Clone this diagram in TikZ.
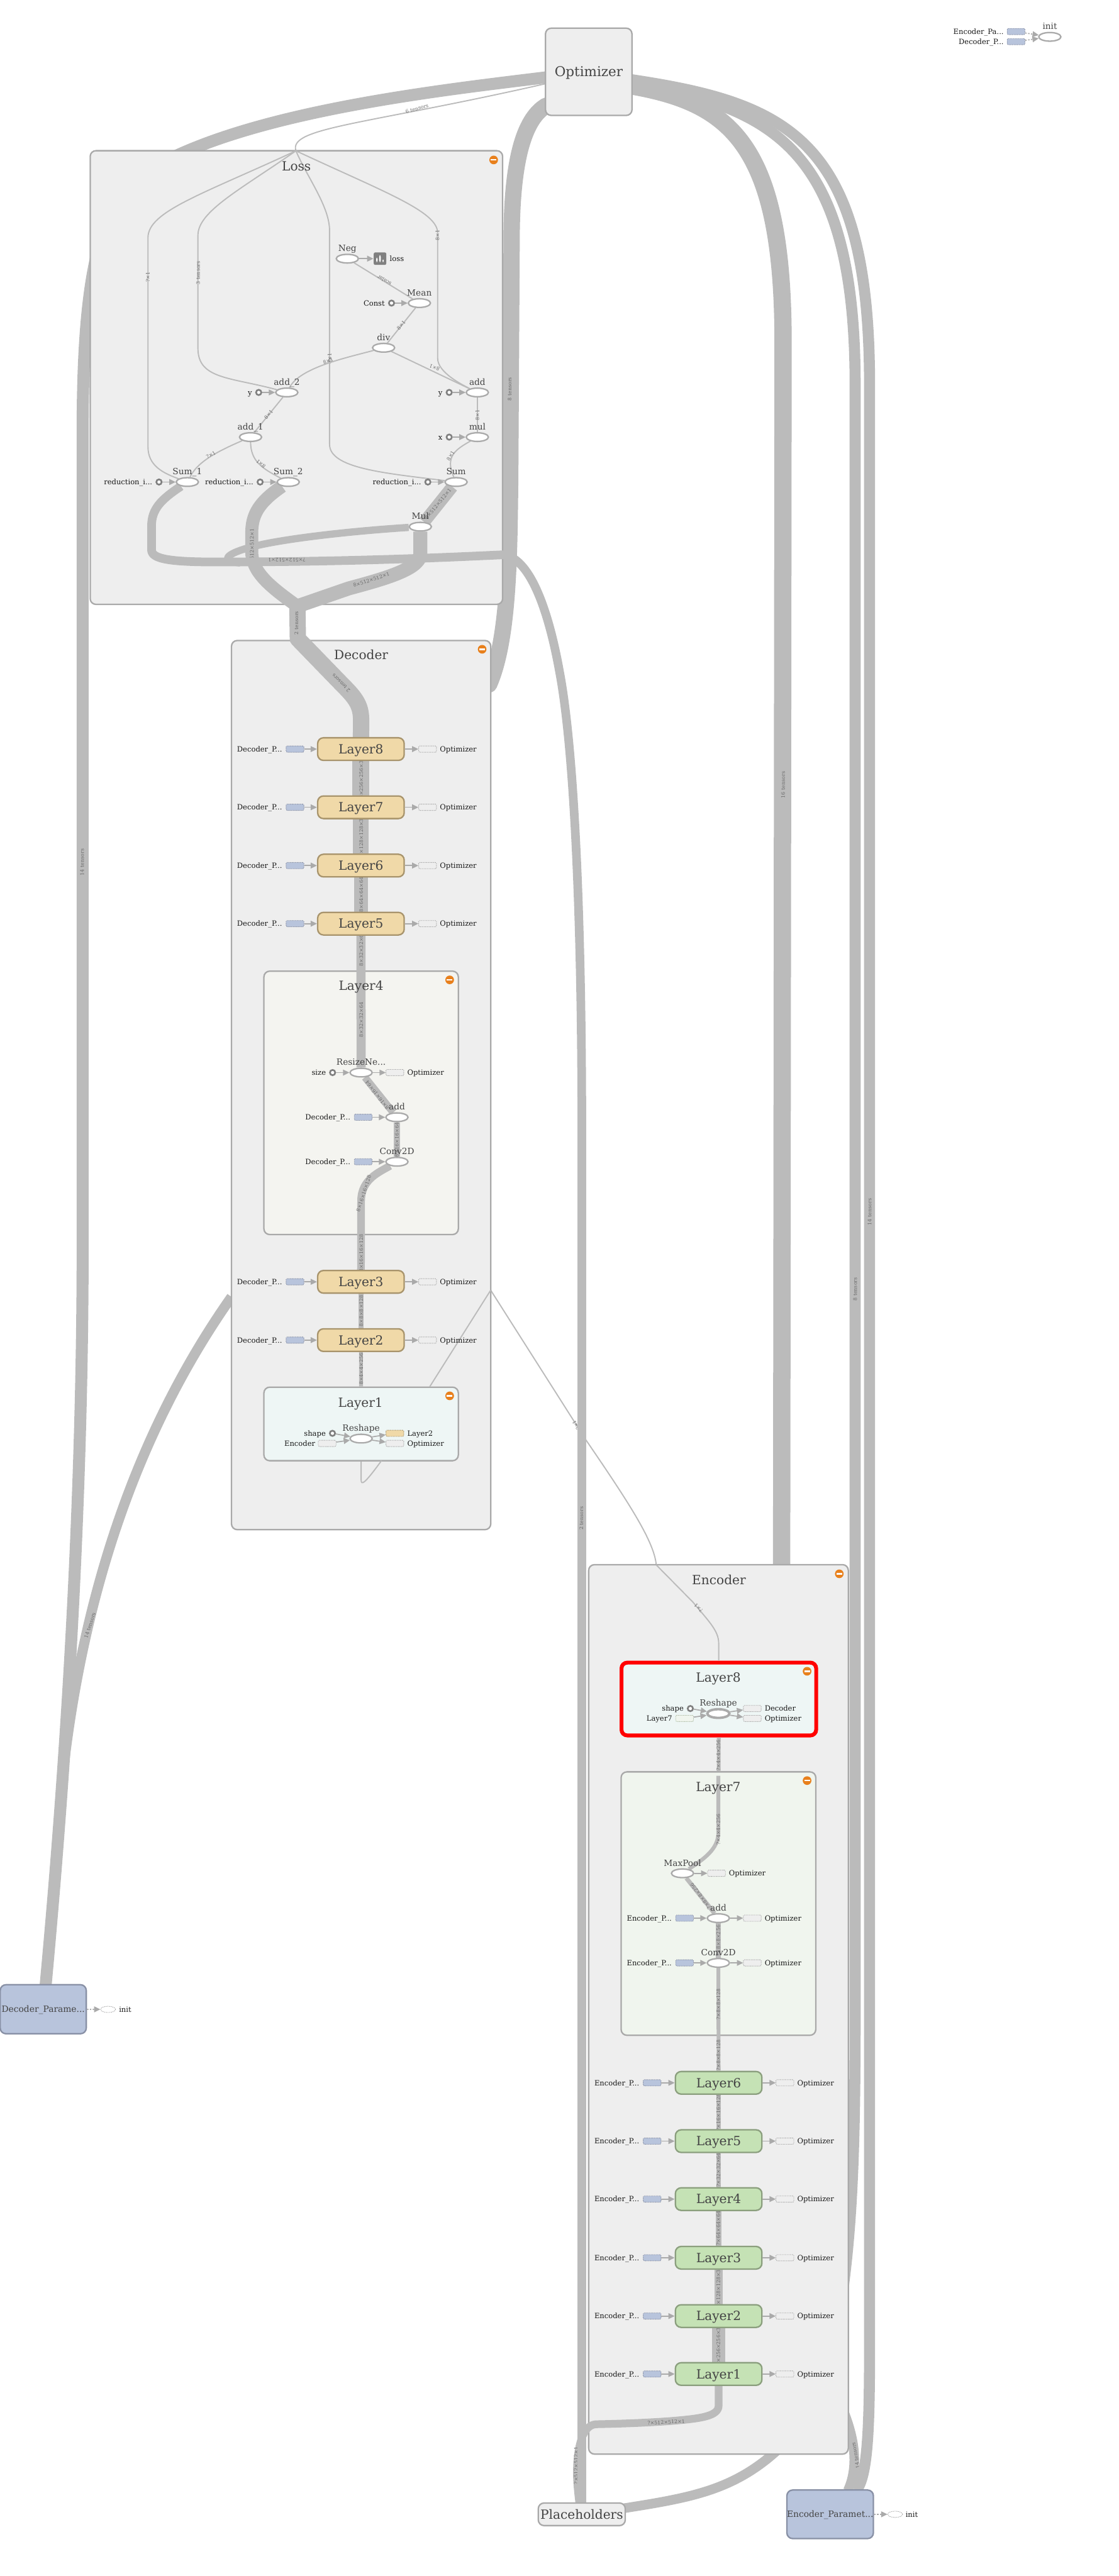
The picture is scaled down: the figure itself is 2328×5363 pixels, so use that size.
\documentclass[tikz,border=0pt]{standalone}
\usepackage{fontspec}
\setmainfont{DejaVu Serif}
\usetikzlibrary{shapes.geometric, arrows.meta, positioning, backgrounds}
\definecolor{edgegray}{HTML}{BBBBBB}
\definecolor{auxgray}{HTML}{AAAAAA}
\definecolor{clusline}{HTML}{A9A9A9}
\definecolor{clusfill}{HTML}{EEEEEE}
\definecolor{opgray}{HTML}{444444}
\definecolor{lablgray}{HTML}{6A6A6A}
\definecolor{tanfill}{HTML}{F0D9A8}
\definecolor{tanline}{HTML}{A8946C}
\definecolor{greenfill}{HTML}{C5E2B5}
\definecolor{greenline}{HTML}{8B9F7E}
\definecolor{bluefill}{HTML}{B8C4DC}
\definecolor{blueline}{HTML}{8890A5}
\definecolor{minusorange}{HTML}{E8801C}
\definecolor{sandfill}{HTML}{F4F4F0}
\definecolor{icefill}{HTML}{EEF6F5}
\definecolor{mintfill}{HTML}{F0F5EE}
\pgfdeclarelayer{toplink}
\pgfdeclarelayer{clusterbox}
\pgfdeclarelayer{inner}
\pgfsetlayers{toplink,clusterbox,inner,main}

\begin{document}
\begin{tikzpicture}[
    x=0.01cm, y=-0.01cm,
    bigfont/.style={font=\fontsize{7.5}{9}\selectfont},
    edg/.style={draw=edgegray, line width=#1, line join=round},
    thinedge/.style={edg=0.025cm},
    aux/.style={-{Triangle[length=0.13cm, width=0.12cm]}, draw=auxgray, line width=0.022cm},
    ctrl/.style={aux, dash pattern=on 0.03cm off 0.03cm},
    elab/.style={font=\fontsize{2.95}{3.5}\selectfont, text=lablgray, inner sep=0pt},
    clus/.style={rectangle, draw=clusline, fill=clusfill, line width=0.03cm, rounded corners=0.12cm, inner sep=0pt},
    clustitle/.style={bigfont, text=opgray, anchor=base, inner sep=0pt},
    minusdot/.style={circle, fill=minusorange, minimum size=0.18cm, inner sep=0pt,
        path picture={\fill[white] ([shift={(-6,-1.5)}]path picture bounding box.center)
            rectangle ([shift={(6,1.5)}]path picture bounding box.center);}},
    bigbox/.style={rectangle, bigfont, text=opgray, rounded corners=0.12cm, line width=0.03cm,
        inner sep=0pt, text height=0.19cm, text depth=0cm},
    layerd/.style={bigbox, draw=tanline, fill=tanfill, minimum width=1.8cm, minimum height=0.47cm},
    layere/.style={bigbox, draw=greenline, fill=greenfill, minimum width=1.8cm, minimum height=0.47cm},
    parambox/.style={bigbox, draw=blueline, fill=bluefill, font=\fontsize{5.15}{6}\selectfont,
        text height=0.13cm},
    opn/.style={ellipse, draw=auxgray, fill=white, line width=0.03cm, minimum width=0.46cm,
        minimum height=0.18cm, inner sep=0pt, label distance=0.035cm},
    optitle/.style={font=\fontsize{5.1}{6}\selectfont, text=opgray, inner sep=0pt,
        text height=0.13cm, text depth=0.04cm},
    cst/.style={circle, draw=gray, fill=white, line width=0.035cm, minimum size=0.11cm, inner sep=0pt},
    auxtxt/.style={font=\fontsize{4.3}{5}\selectfont, text=black!90, inner sep=0pt, text height=0.11cm, text depth=0cm},
    auxbase/.style={rectangle, rounded corners=0.02cm, minimum width=0.37cm, minimum height=0.13cm,
        inner sep=0pt, line width=0.012cm, dash pattern=on 0.02cm off 0.015cm},
    param/.style={auxbase, draw=blueline, fill=bluefill},
    optaux/.style={auxbase, draw=auxgray, fill=clusfill},
    sumicon/.style={rectangle, rounded corners=0.03cm, fill=gray, minimum size=0.26cm, inner sep=0pt,
        path picture={
            \fill[white] ([shift={(-8,7)}]path picture bounding box.center) rectangle ([shift={(-5,-2)}]path picture bounding box.center);
            \fill[white] ([shift={(-1.5,7)}]path picture bounding box.center) rectangle ([shift={(1.5,-7)}]path picture bounding box.center);
            \fill[white] ([shift={(5,7)}]path picture bounding box.center) rectangle ([shift={(8,2)}]path picture bounding box.center);}},
    initaux/.style={ellipse, draw=auxgray, line width=0.012cm, dash pattern=on 0.02cm off 0.015cm,
        minimum width=0.31cm, minimum height=0.13cm, inner sep=0pt}
]
    \useasboundingbox (0,0) rectangle (2328,5363);

    % cluster boxes
    \begin{pgfonlayer}{clusterbox}
    \node[clus, minimum width=8.58cm, minimum height=9.44cm] (lossbox) at (617,786) {};
    \node[clus, minimum width=5.394cm, minimum height=18.5cm] (decbox) at (751.7,2259) {};
    \node[clus, fill=sandfill, minimum width=4.045cm, minimum height=5.48cm] (dl4box) at (751.7,2296) {};
    \node[clus, fill=icefill, minimum width=4.045cm, minimum height=1.53cm] (dl1box) at (751.7,2964.5) {};
    \node[clus, minimum width=5.402cm, minimum height=18.506cm] (encbox) at (1495.6,4183.3) {};
    \node[clus, fill=icefill, draw=red, line width=0.08cm, minimum width=4.05cm, minimum height=1.515cm] (el8box) at (1496.3,3537.2) {};
    \node[clus, fill=mintfill, minimum width=4.05cm, minimum height=5.48cm] (el7box) at (1495.5,3963) {};
    \end{pgfonlayer}

    % titles and minus signs
    \node[clustitle] (losst) at (617,355.5) {Loss};
    \node[minusdot] (lossm) at (1027.6,333) {};
    \node[clustitle] (dect) at (751.7,1373) {Decoder};
    \node[minusdot] (decm) at (1003.6,1351.7) {};
    \node[clustitle] (dl4t) at (751.7,2062) {Layer4};
    \node[minusdot] (dl4m) at (936,2040) {};
    \node[clustitle] (dl1t) at (750.5,2929.5) {Layer1};
    \node[minusdot] (dl1m) at (936,2906) {};
    \node[clustitle] (enct) at (1496.5,3299) {Encoder};
    \node[minusdot] (encm) at (1747,3276.5) {};
    \node[clustitle] (el8t) at (1495.3,3502) {Layer8};
    \node[minusdot] (el8m) at (1680,3479.4) {};
    \node[clustitle] (el7t) at (1495,3730) {Layer7};
    \node[minusdot] (el7m) at (1680,3707) {};

    % top level nodes
    \node[bigbox, draw=clusline, fill=clusfill, font=\fontsize{8}{9}\selectfont, minimum width=1.8cm, minimum height=1.815cm] (opt) at (1225.5,149.5) {Optimizer};
    \node[bigbox, draw=clusline, fill=clusfill, minimum width=1.81cm, minimum height=0.47cm] (plc) at (1211,5234.5) {Placeholders};
    \node[parambox, minimum width=1.8cm, minimum height=1.01cm] (encp) at (1728,5234.5) {Encoder\_Paramet...};
    \node[initaux] (encpi) at (1863.3,5234.5) {};
    \node[auxtxt, right=0.05cm of encpi] (encpit) {init};
    \node[parambox, minimum width=1.79cm, minimum height=1.02cm] (decp) at (90,4183) {Decoder\_Parame...};
    \node[initaux] (decpi) at (225,4183.3) {};
    \node[auxtxt, right=0.06cm of decpi] (decpit) {init};
    \node[opn, label={[optitle]above:init}] (initop) at (2185.3,76.7) {};
    \node[param] (epin) at (2115,65.7) {};
    \node[param] (dpin) at (2115,86.7) {};
    \node[auxtxt, left=0.06cm of epin] (epint) {Encoder\_Pa...};
    \node[auxtxt, left=0.06cm of dpin] (dpint) {Decoder\_P...};

    % loss ops
    \node[opn, label={[optitle]above:Neg}] (neg) at (723,538.5) {};
    \node[sumicon] (lossicon) at (791,538.5) {};
    \node[auxtxt, right=0.06cm of lossicon] (losstxt) {loss};
    \node[opn, label={[optitle]above:Mean}] (mean) at (873,631) {};
    \node[cst] (constc) at (815,631) {};
    \node[auxtxt, left=0.06cm of constc] (constt) {Const};
    \node[opn, label={[optitle]above:div}] (divop) at (798.5,724) {};
    \node[opn, label={[optitle]above:add\_2}] (add2) at (597,817) {};
    \node[cst] (add2c) at (538.5,817) {};
    \node[auxtxt, left=0.06cm of add2c] (add2t) {y};
    \node[opn, label={[optitle]above:add}] (addop) at (993.6,817) {};
    \node[cst] (addc) at (935,817) {};
    \node[auxtxt, left=0.06cm of addc] (addt) {y};
    \node[opn, label={[optitle]above:add\_1}] (add1) at (521.5,910) {};
    \node[opn, label={[optitle]above:mul}] (mulop) at (993.6,910) {};
    \node[cst] (mulc) at (935,910) {};
    \node[auxtxt, left=0.06cm of mulc] (mult) {x};
    \node[opn, label={[optitle]above:Sum\_1}] (sum1) at (390,1003.5) {};
    \node[cst] (sum1c) at (331,1003.5) {};
    \node[auxtxt, left=0.06cm of sum1c] (sum1t) {reduction\_i...};
    \node[opn, label={[optitle]above:Sum\_2}] (sum2) at (600,1003.5) {};
    \node[cst] (sum2c) at (541.5,1003.5) {};
    \node[auxtxt, left=0.06cm of sum2c] (sum2t) {reduction\_i...};
    \node[opn, label={[optitle]above:Sum}] (sumop) at (949.4,1003.5) {};
    \node[cst] (sumc) at (890.6,1003.5) {};
    \node[auxtxt, left=0.06cm of sumc] (sumt) {reduction\_i...};
    \node[opn, label={[optitle]above:Mul}] (mulup) at (875,1096.5) {};

    % decoder layers
    \node[layerd] (dl8) at (751.3,1559.5) {Layer8};
    \node[param] (dl8a) at (614,1559.5) {};
    \node[auxtxt, left=0.07cm of dl8a] (dl8at) {Decoder\_P...};
    \node[optaux] (dl8b) at (890,1559.5) {};
    \node[auxtxt, right=0.06cm of dl8b] (dl8bt) {Optimizer};
    \node[layerd] (dl7) at (751.3,1680.7) {Layer7};
    \node[param] (dl7a) at (614,1680.7) {};
    \node[auxtxt, left=0.07cm of dl7a] (dl7at) {Decoder\_P...};
    \node[optaux] (dl7b) at (890,1680.7) {};
    \node[auxtxt, right=0.06cm of dl7b] (dl7bt) {Optimizer};
    \node[layerd] (dl6) at (751.3,1802) {Layer6};
    \node[param] (dl6a) at (614,1802) {};
    \node[auxtxt, left=0.07cm of dl6a] (dl6at) {Decoder\_P...};
    \node[optaux] (dl6b) at (890,1802) {};
    \node[auxtxt, right=0.06cm of dl6b] (dl6bt) {Optimizer};
    \node[layerd] (dl5) at (751.3,1923) {Layer5};
    \node[param] (dl5a) at (614,1923) {};
    \node[auxtxt, left=0.07cm of dl5a] (dl5at) {Decoder\_P...};
    \node[optaux] (dl5b) at (890,1923) {};
    \node[auxtxt, right=0.06cm of dl5b] (dl5bt) {Optimizer};
    \node[layerd] (dl3) at (751.3,2668.6) {Layer3};
    \node[param] (dl3a) at (614,2668.6) {};
    \node[auxtxt, left=0.07cm of dl3a] (dl3at) {Decoder\_P...};
    \node[optaux] (dl3b) at (890,2668.6) {};
    \node[auxtxt, right=0.06cm of dl3b] (dl3bt) {Optimizer};
    \node[layerd] (dl2) at (751.3,2790) {Layer2};
    \node[param] (dl2a) at (614,2790) {};
    \node[auxtxt, left=0.07cm of dl2a] (dl2at) {Decoder\_P...};
    \node[optaux] (dl2b) at (890,2790) {};
    \node[auxtxt, right=0.06cm of dl2b] (dl2bt) {Optimizer};

    % inside decoder layer 4
    \node[opn, label={[optitle]above:ResizeNe...}] (dres) at (751.7,2233) {};
    \node[cst] (dresc) at (692.3,2233) {};
    \node[auxtxt, left=0.06cm of dresc] (dresct) {size};
    \node[optaux] (dresb) at (822,2233) {};
    \node[auxtxt, right=0.06cm of dresb] (dresbt) {Optimizer};
    \node[opn, label={[optitle]above:add}] (dadd) at (826.3,2326) {};
    \node[param] (dadda) at (756,2326) {};
    \node[auxtxt, left=0.07cm of dadda] (daddat) {Decoder\_P...};
    \node[opn, label={[optitle]above:Conv2D}] (dconv) at (826.3,2418.6) {};
    \node[param] (dconva) at (756,2418.6) {};
    \node[auxtxt, left=0.07cm of dconva] (dconvat) {Decoder\_P...};

    % inside decoder layer 1
    \node[opn, label={[optitle]above:Reshape}] (dresh) at (751.7,2995) {};
    \node[cst] (dreshc) at (692,2984) {};
    \node[auxtxt, left=0.06cm of dreshc] (dreshct) {shape};
    \node[optaux] (dreshe) at (681,3005) {};
    \node[auxtxt, left=0.05cm of dreshe] (dreshet) {Encoder};
    \node[auxbase, draw=tanline, fill=tanfill] (dreshl) at (822,2984) {};
    \node[auxtxt, right=0.06cm of dreshl] (dreshlt) {Layer2};
    \node[optaux] (dresho) at (822,3005) {};
    \node[auxtxt, right=0.06cm of dresho] (dreshot) {Optimizer};

    % inside encoder layer 8
    \node[opn, line width=0.05cm, label={[optitle]above:Reshape}] (eresh) at (1495.3,3567.4) {};
    \node[cst] (ereshc) at (1437,3557) {};
    \node[auxtxt, left=0.06cm of ereshc] (ereshct) {shape};
    \node[auxbase, draw=greenline!70, fill=mintfill] (ereshl) at (1425,3577.6) {};
    \node[auxtxt, left=0.06cm of ereshl] (ereshlt) {Layer7};
    \node[optaux] (ereshd) at (1566,3557) {};
    \node[auxtxt, right=0.06cm of ereshd] (ereshdt) {Decoder};
    \node[optaux] (ereso) at (1566,3577.6) {};
    \node[auxtxt, right=0.06cm of ereso] (eresot) {Optimizer};

    % inside encoder layer 7
    \node[opn, label={[optitle]above:MaxPool}] (emax) at (1420.7,3900) {};
    \node[optaux] (emaxb) at (1491.5,3900) {};
    \node[auxtxt, right=0.06cm of emaxb] (emaxbt) {Optimizer};
    \node[opn, label={[optitle]above:add}] (eadd) at (1495.3,3993.4) {};
    \node[param] (eadda) at (1425,3993.4) {};
    \node[auxtxt, left=0.07cm of eadda] (eaddat) {Encoder\_P...};
    \node[optaux] (eaddb) at (1566,3993.4) {};
    \node[auxtxt, right=0.06cm of eaddb] (eaddbt) {Optimizer};
    \node[opn, label={[optitle]above:Conv2D}] (econv) at (1495.3,4086.5) {};
    \node[param] (econva) at (1425,4086.5) {};
    \node[auxtxt, left=0.07cm of econva] (econvat) {Encoder\_P...};
    \node[optaux] (econvb) at (1566,4086.5) {};
    \node[auxtxt, right=0.06cm of econvb] (econvbt) {Optimizer};

    % encoder layers
    \node[layere] (el6) at (1495.9,4336.2) {Layer6};
    \node[param] (el6a) at (1357.5,4336.2) {};
    \node[auxtxt, left=0.07cm of el6a] (el6at) {Encoder\_P...};
    \node[optaux] (el6b) at (1633.8,4336.2) {};
    \node[auxtxt, right=0.06cm of el6b] (el6bt) {Optimizer};
    \node[layere] (el5) at (1495.9,4457.6) {Layer5};
    \node[param] (el5a) at (1357.5,4457.6) {};
    \node[auxtxt, left=0.07cm of el5a] (el5at) {Encoder\_P...};
    \node[optaux] (el5b) at (1633.8,4457.6) {};
    \node[auxtxt, right=0.06cm of el5b] (el5bt) {Optimizer};
    \node[layere] (el4) at (1495.9,4578.3) {Layer4};
    \node[param] (el4a) at (1357.5,4578.3) {};
    \node[auxtxt, left=0.07cm of el4a] (el4at) {Encoder\_P...};
    \node[optaux] (el4b) at (1633.8,4578.3) {};
    \node[auxtxt, right=0.06cm of el4b] (el4bt) {Optimizer};
    \node[layere] (el3) at (1495.9,4700.4) {Layer3};
    \node[param] (el3a) at (1357.5,4700.4) {};
    \node[auxtxt, left=0.07cm of el3a] (el3at) {Encoder\_P...};
    \node[optaux] (el3b) at (1633.8,4700.4) {};
    \node[auxtxt, right=0.06cm of el3b] (el3bt) {Optimizer};
    \node[layere] (el2) at (1495.9,4821.8) {Layer2};
    \node[param] (el2a) at (1357.5,4821.8) {};
    \node[auxtxt, left=0.07cm of el2a] (el2at) {Encoder\_P...};
    \node[optaux] (el2b) at (1633.8,4821.8) {};
    \node[auxtxt, right=0.06cm of el2b] (el2bt) {Optimizer};
    \node[layere] (el1) at (1495.9,4942.4) {Layer1};
    \node[param] (el1a) at (1357.5,4942.4) {};
    \node[auxtxt, left=0.07cm of el1a] (el1at) {Encoder\_P...};
    \node[optaux] (el1b) at (1633.8,4942.4) {};
    \node[auxtxt, right=0.06cm of el1b] (el1bt) {Optimizer};

    % free ends of the connectors
    \coordinate (optleft) at (1137,161);
    \coordinate (optlow) at (1137,220);
    \coordinate (optthin) at (1137,174);
    \coordinate (optr1) at (1315,179);
    \coordinate (optr2) at (1315,172);
    \coordinate (optr3) at (1315,166);
    \coordinate (decpin) at (95,4133);
    \coordinate (encpin1) at (1765,5185);
    \coordinate (encpin2) at (1782,5185);
    \coordinate (plcmain) at (1211,5212);
    \coordinate (plcbump) at (1206,5212);
    \coordinate (plcout) at (1298,5222);
    \coordinate (lossin) at (616,314);
    \coordinate (lossout) at (619,1262);
    \coordinate (decout) at (1021.4,2686);
    \coordinate (encin) at (1366,3258);

    % links behind the clusters
    \begin{pgfonlayer}{toplink}
    \draw[thinedge] (decout) -- (1219.8,2998) .. controls (1310,3130) and (1362,3210) .. (encin);
    \node[elab, rotate=120] (lthin1) at (1199,2967) {?×1};
    \draw[edg=0.25cm] (optleft) .. controls (900,190) and (500,235) .. (300,360)
        .. controls (210,425) and (172,560) .. (172,900) -- (172,2600)
        .. controls (172,3150) and (135,3700) .. (decpin);
    \draw[edg=0.21cm] (482,2700) .. controls (320,2930) and (180,3250) .. (130,3700);
    \node[elab, rotate=90] (lopt1) at (171,1795) {14 tensors};
    \node[elab, rotate=72] (ldec14) at (187,3384) {14 tensors};
    \draw[edg=0.34cm, line cap=round] (optlow) .. controls (1095,245) and (1066,320) .. (1065,491)
        -- (1062,1000) .. controls (1060,1150) and (1060,1330) .. (1018,1425);
    \node[elab, rotate=90] (lopt8) at (1061,810) {8 tensors};
    \draw[edg=0.36cm] (optr1) .. controls (1520,215) and (1630,300) .. (1630,712) -- (1627,3265);
    \node[elab, rotate=90] (lopt16) at (1630,1634) {16 tensors};
    \draw[edg=0.23cm] (optr2) .. controls (1600,225) and (1780,300) .. (1780,800) -- (1780,4200)
        .. controls (1780,4500) and (1772,4650) .. (1750,4800);
    \node[elab, rotate=90] (lopt8b) at (1780,2684) {8 tensors};
    \draw[edg=0.2cm] (1758,5025) .. controls (1775,5070) and (1790,5130) .. (encpin1);
    \node[elab, rotate=100] (lenc14) at (1781,5112) {14 tensors};
    \draw[edg=0.23cm] (optr3) .. controls (1640,215) and (1810,290) .. (1810,800) -- (1810,4800)
        .. controls (1810,5000) and (1812,5150) .. (encpin2);
    \node[elab, rotate=90] (lopt14) at (1810,2523) {14 tensors};
    \draw[edg=0.2cm] (plcout) .. controls (1450,5198) and (1540,5182) .. (1640,5080);
    \draw[thinedge] (optthin) .. controls (760,260) and (600,265) .. (lossin);
    \node[elab, rotate=15] (lopt6) at (868,226) {6 tensors};
    \end{pgfonlayer}

    % links over the clusters
    \begin{pgfonlayer}{inner}
    % loss, thin ones
    \draw[thinedge] (lossin) .. controls (420,405) and (308,440) .. (308,495) -- (308,930)
        .. controls (308,970) and (340,985) .. (sum1);
    \node[elab, rotate=90] (l1) at (307.6,577) {?×1};
    \draw[thinedge] (lossin) .. controls (500,395) and (412,440) .. (412,490) -- (412,725)
        .. controls (412,790) and (480,785) .. (add2);
    \node[elab, rotate=90] (l2) at (412.4,568) {3 tensors};
    \draw[thinedge] (lossin) .. controls (640,370) and (686,430) .. (686,480) -- (686,925)
        .. controls (686,975) and (800,985) .. (sumop);
    \node[elab, rotate=90] (l3) at (686,746) {8×1};
    \draw[thinedge] (lossin) .. controls (800,400) and (911,440) .. (911,485) -- (911,746)
        .. controls (911,775) and (960,800) .. (addop);
    \node[elab, rotate=90] (l4) at (910.6,490) {8×1};
    \draw[thinedge] (neg) -- (mean);
    \node[elab, rotate=150] (l5) at (800,584) {scalar};
    \draw[thinedge] (mean) -- (divop);
    \node[elab, rotate=50] (l6) at (835,677.5) {8×1};
    \draw[thinedge] (divop) .. controls (720,745) and (625,765) .. (add2);
    \node[elab, rotate=20] (l7) at (683,751.5) {8×1};
    \draw[thinedge] (divop) -- (addop);
    \node[elab, rotate=160] (l8) at (904.5,765.5) {8×1};
    \draw[thinedge] (addop) -- (mulop);
    \node[elab, rotate=90] (l9) at (993.6,864) {8×1};
    \draw[thinedge] (add2) -- (add1);
    \node[elab, rotate=50] (l10) at (559,863) {8×1};
    \draw[thinedge] (mulop) .. controls (950,935) and (925,950) .. (sumop);
    \node[elab, rotate=60] (l11) at (938,948.6) {8×1};
    \draw[thinedge] (add1) .. controls (440,945) and (410,965) .. (sum1);
    \node[elab, rotate=30] (l12) at (439,946.7) {?×1};
    \draw[thinedge] (add1) .. controls (522,960) and (545,975) .. (sum2);
    \node[elab, rotate=140] (l13) at (543,966) {8×1};
    % loss, thick ones
    \draw[edg=0.25cm] (sumop) -- (mulup);
    \node[elab, rotate=50] (l14) at (912,1049) {8×512×512×1};
    \draw[edg=0.15cm] (mulup) .. controls (740,1105) and (600,1120) .. (530,1137)
        .. controls (470,1152) and (455,1168) .. (500,1172);
    \draw[edg=0.27cm] (sum2) .. controls (540,1045) and (524,1070) .. (524,1110) -- (524,1148)
        .. controls (524,1190) and (560,1220) .. (lossout);
    \node[elab, rotate=90] (l15) at (524.5,1140) {8×512×512×1};
    \draw[edg=0.29cm] (mulup) -- (875,1155) .. controls (872,1185) and (800,1205) .. (726,1225) -- (lossout);
    \node[elab, rotate=18] (l16) at (773,1207) {8×512×512×1};
    \draw[edg=0.34cm] (lossout) -- (620,1330) -- (715,1428)
        .. controls (742,1455) and (751.7,1470) .. (751.7,1500) -- (dl8);
    \node[elab, rotate=90] (l17) at (617,1297) {2 tensors};
    \node[elab, rotate=135] (l18) at (710,1422) {2 tensors};
    % placeholders
    \draw[edg=0.16cm] (el1.south) -- (1495.9,5008) .. controls (1495.9,5030) and (1460,5035) .. (1400,5040)
        .. controls (1350,5044) and (1290,5046) .. (1240,5047)
        .. controls (1205,5050) and (1200,5120) .. (1201,5157)
        .. controls (1202,5180) and (1204,5195) .. (plcbump);
    \node[elab, rotate=90] (l19) at (1199,5133) {?×512×512×1};
    \node[elab, rotate=3] (l20) at (1386.7,5042.7) {?×512×512×1};
    \draw[edg=0.18cm] (sum1) .. controls (335,1040) and (315.5,1060) .. (315.5,1095) -- (315.5,1145)
        .. controls (315.5,1165) and (360,1170) .. (453,1170)
        .. controls (700,1170) and (900,1162) .. (1047,1155)
        .. controls (1100,1160) and (1140,1260) .. (1165,1400)
        .. controls (1195,1560) and (1210,1900) .. (1211,2300) -- (plcmain);
    \node[elab, rotate=180] (l21) at (597,1166) {?×512×512×1};
    \node[elab, rotate=90] (l22) at (1210,3161) {2 tensors};
    % decoder
    \draw[edg=0.35cm] (dl8) -- (dl7);
    \node[elab, rotate=90] (d1) at (751.7,1620) {8×256×256×32};
    \draw[edg=0.33cm] (dl7) -- (dl6);
    \node[elab, rotate=90] (d2) at (751.7,1741) {8×128×128×32};
    \draw[edg=0.28cm] (dl6) -- (dl5);
    \node[elab, rotate=90] (d3) at (751.7,1862.5) {8×64×64×64};
    \draw[edg=0.19cm] (dl5) -- (dres);
    \node[elab, rotate=90] (d4) at (751.7,1975.5) {8×32×32×64};
    \node[elab, rotate=90] (d5) at (751.7,2123) {8×32×32×64};
    \draw[edg=0.15cm] (dres) -- (dadd);
    \node[elab, rotate=128] (d6) at (785,2280) {8×16×16×64};
    \draw[edg=0.13cm] (dadd) -- (dconv);
    \node[elab, rotate=90] (d7) at (826.3,2373) {8×16×16×64};
    \draw[edg=0.16cm] (dconv) .. controls (790,2440) and (751.7,2455) .. (751.7,2500) -- (dl3);
    \node[elab, rotate=72] (d8) at (757,2485) {8×16×16×128};
    \node[elab, rotate=90] (d9) at (751.7,2609) {8×16×16×128};
    \draw[edg=0.1cm] (dl3) -- (dl2);
    \node[elab, rotate=90] (d10) at (751.7,2729) {8×8×8×128};
    \draw[edg=0.08cm] (dl2) -- (dl1box);
    \node[elab, rotate=90] (d11) at (751.7,2850) {8×4×4×256};
    \draw[thinedge] (decout) -- (894.5,2887);
    \draw[thinedge] (dl1box.south) -- (751.7,3081) .. controls (752,3092) and (757,3092) .. (794,3041);
    % encoder
    \draw[thinedge] (encin) -- (1442,3335) .. controls (1475,3375) and (1496,3395) .. (1496,3421) -- (el8box);
    \node[elab, rotate=135] (e1) at (1454,3348) {?×1};
    \draw[edg=0.08cm] (el8box) -- (el7box);
    \node[elab, rotate=90] (e2) at (1495.3,3654) {?×4×4×256};
    \draw[edg=0.08cm] (1495.3,3697) -- (1495.3,3815) .. controls (1495.3,3850) and (1465,3870) .. (emax);
    \node[elab, rotate=90] (e3) at (1495.3,3809) {?×4×4×256};
    \draw[edg=0.09cm] (emax) -- (eadd);
    \node[elab, rotate=126] (e4) at (1458,3947.5) {?×8×8×256};
    \draw[edg=0.1cm] (eadd) -- (econv);
    \node[elab, rotate=90] (e5) at (1495.3,4040) {?×8×8×256};
    \draw[edg=0.08cm] (econv) -- (el6);
    \node[elab, rotate=90] (e6) at (1495.3,4172.6) {?×8×8×128};
    \node[elab, rotate=90] (e7) at (1495.3,4279) {?×8×8×128};
    \draw[edg=0.09cm] (el6) -- (el5);
    \node[elab, rotate=90] (e8) at (1495.3,4397.6) {?×16×16×128};
    \draw[edg=0.1cm] (el5) -- (el4);
    \node[elab, rotate=90] (e9) at (1495.3,4517.6) {?×32×32×64};
    \draw[edg=0.13cm] (el4) -- (el3);
    \node[elab, rotate=90] (e10) at (1495.3,4639) {?×64×64×64};
    \draw[edg=0.17cm] (el3) -- (el2);
    \node[elab, rotate=90] (e11) at (1495.3,4761) {?×128×128×32};
    \draw[edg=0.27cm] (el2) -- (el1);
    \node[elab, rotate=90] (e12) at (1495.3,4881.7) {?×256×256×32};
    \end{pgfonlayer}

    % small side arrows
    \draw[ctrl] (encp) -- (encpi);
    \draw[ctrl] (decp) -- (decpi);
    \draw[ctrl] (epin) -- (initop);
    \draw[ctrl] (dpin) -- (initop);
    \draw[aux] (neg) -- (lossicon);
    \draw[aux] (constc) -- (mean);
    \draw[aux] (add2c) -- (add2);
    \draw[aux] (addc) -- (addop);
    \draw[aux] (mulc) -- (mulop);
    \draw[aux] (sum1c) -- (sum1);
    \draw[aux] (sum2c) -- (sum2);
    \draw[aux] (sumc) -- (sumop);
    \draw[aux] (dl8a) -- (dl8);
    \draw[aux] (dl8) -- (dl8b);
    \draw[aux] (dl7a) -- (dl7);
    \draw[aux] (dl7) -- (dl7b);
    \draw[aux] (dl6a) -- (dl6);
    \draw[aux] (dl6) -- (dl6b);
    \draw[aux] (dl5a) -- (dl5);
    \draw[aux] (dl5) -- (dl5b);
    \draw[aux] (dl3a) -- (dl3);
    \draw[aux] (dl3) -- (dl3b);
    \draw[aux] (dl2a) -- (dl2);
    \draw[aux] (dl2) -- (dl2b);
    \draw[aux] (dresc) -- (dres);
    \draw[aux] (dres) -- (dresb);
    \draw[aux] (dadda) -- (dadd);
    \draw[aux] (dconva) -- (dconv);
    \draw[aux] (dreshc) -- (dresh);
    \draw[aux] (dreshe) -- (dresh);
    \draw[aux] (dresh) -- (dreshl);
    \draw[aux] (dresh) -- (dresho);
    \draw[aux] (ereshc) -- (eresh);
    \draw[aux] (ereshl) -- (eresh);
    \draw[aux] (eresh) -- (ereshd);
    \draw[aux] (eresh) -- (ereso);
    \draw[aux] (emax) -- (emaxb);
    \draw[aux] (eadda) -- (eadd);
    \draw[aux] (eadd) -- (eaddb);
    \draw[aux] (econva) -- (econv);
    \draw[aux] (econv) -- (econvb);
    \draw[aux] (el6a) -- (el6);
    \draw[aux] (el6) -- (el6b);
    \draw[aux] (el5a) -- (el5);
    \draw[aux] (el5) -- (el5b);
    \draw[aux] (el4a) -- (el4);
    \draw[aux] (el4) -- (el4b);
    \draw[aux] (el3a) -- (el3);
    \draw[aux] (el3) -- (el3b);
    \draw[aux] (el2a) -- (el2);
    \draw[aux] (el2) -- (el2b);
    \draw[aux] (el1a) -- (el1);
    \draw[aux] (el1) -- (el1b);
\end{tikzpicture}
\end{document}
